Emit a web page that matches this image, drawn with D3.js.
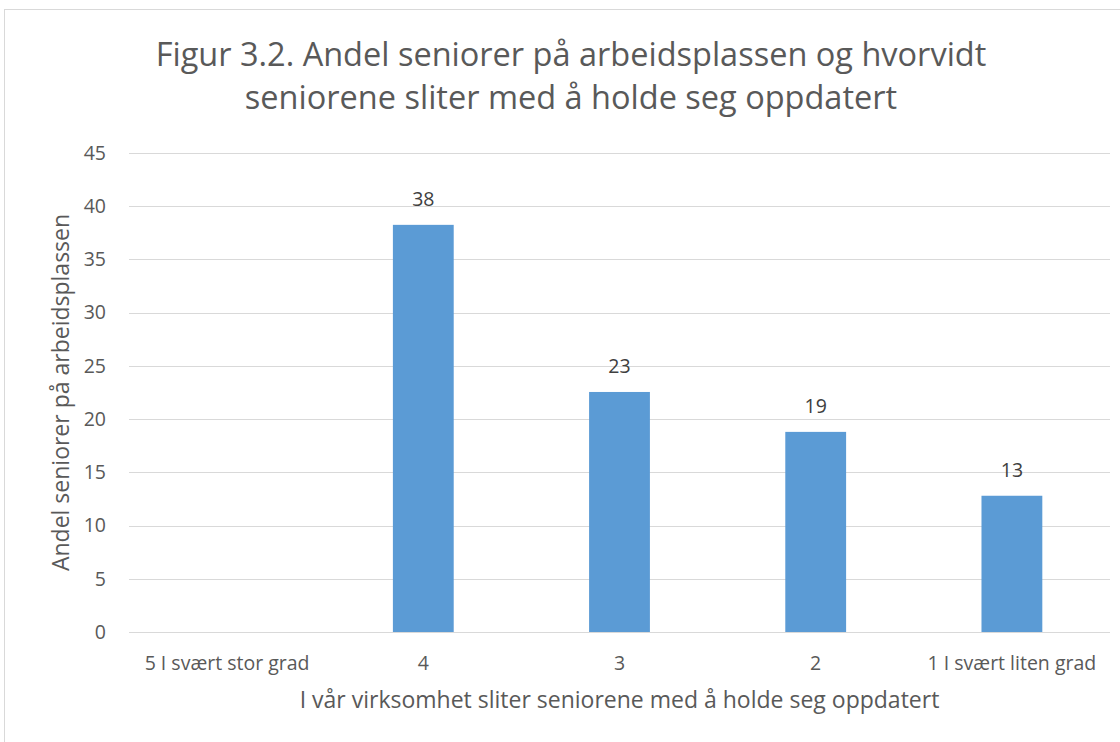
<!DOCTYPE html>
<meta charset="utf-8">
<style>
  body { margin: 0; background: #fff; }
  text { font-family: "Open Sans", "Noto Sans", sans-serif; }
  .grid line { stroke: #d9d9d9; stroke-width: 1; }
  .tick-label { fill: #595959; font-size: 19.5px; }
</style>
<body>
<script src="https://d3js.org/d3.v7.min.js"></script>
<script>
// data
var categories = ["5 I svært stor grad", "4", "3", "2", "1 I svært liten grad"];
var values = [0, 38.25, 22.55, 18.8, 12.8];
var yTicks = [0, 5, 10, 15, 20, 25, 30, 35, 40, 45];
var titleLines = ["Figur 3.2. Andel seniorer på arbeidsplassen og hvorvidt",
                  "seniorene sliter med å holde seg oppdatert"];
var yTitle = "Andel seniorer på arbeidsplassen";
var xTitle = "I vår virksomhet sliter seniorene med å holde seg oppdatert";

var width = 1120, height = 742;
var margin = {top: 153, right: 10, bottom: 110, left: 129};

var svg = d3.select("body").append("svg")
    .attr("width", width)
    .attr("height", height);

// chart border
svg.append("rect")
    .attr("x", 4.5).attr("y", 9.5)
    .attr("width", width + 20).attr("height", height + 20)
    .attr("fill", "none")
    .attr("stroke", "#d9d9d9");

var x = d3.scaleBand()
    .domain(categories)
    .range([margin.left, width - margin.right])
    .paddingInner(0.69)
    .paddingOuter(0.345);

var y = d3.scaleLinear()
    .domain([0, 45])
    .range([height - margin.bottom, margin.top]);

// gridlines
svg.append("g").attr("class", "grid")
  .selectAll("line")
    .data(yTicks)
  .enter().append("line")
    .attr("x1", margin.left)
    .attr("x2", width - margin.right)
    .attr("y1", function(d) { return Math.round(y(d)) + 0.5; })
    .attr("y2", function(d) { return Math.round(y(d)) + 0.5; });

// y tick labels
svg.append("g")
  .selectAll("text")
    .data(yTicks)
  .enter().append("text")
    .attr("class", "tick-label")
    .attr("x", 106)
    .attr("y", function(d) { return y(d); })
    .attr("dy", "0.35em")
    .attr("text-anchor", "end")
    .text(function(d) { return d; });

// bars
var cats = categories.map(function(c, i) { return {cat: c, v: values[i]}; });

svg.append("g")
  .selectAll("rect")
    .data(cats.filter(function(d) { return d.v > 0; }))
  .enter().append("rect")
    .attr("x", function(d) { return x(d.cat); })
    .attr("width", x.bandwidth())
    .attr("y", function(d) { return y(d.v); })
    .attr("height", function(d) { return y(0) - y(d.v); })
    .attr("fill", "#5b9bd5");

// value labels
svg.append("g")
  .selectAll("text")
    .data(cats.filter(function(d) { return d.v > 0; }))
  .enter().append("text")
    .attr("x", function(d) { return x(d.cat) + x.bandwidth() / 2; })
    .attr("y", function(d) { return y(d.v) - 19; })
    .attr("text-anchor", "middle")
    .attr("fill", "#404040")
    .style("font-size", "19.5px")
    .text(function(d) { return Math.round(d.v); });

// x category labels
svg.append("g")
  .selectAll("text")
    .data(categories)
  .enter().append("text")
    .attr("class", "tick-label")
    .attr("x", function(d) { return x(d) + x.bandwidth() / 2; })
    .attr("y", 670)
    .attr("text-anchor", "middle")
    .text(function(d) { return d; });

// axis titles
svg.append("text")
    .attr("x", (margin.left + width - margin.right) / 2)
    .attr("y", 708)
    .attr("text-anchor", "middle")
    .attr("fill", "#595959")
    .style("font-size", "23px")
    .text(xTitle);

svg.append("text")
    .attr("transform", "translate(69," + y(22.5) + ") rotate(-90)")
    .attr("text-anchor", "middle")
    .attr("fill", "#595959")
    .style("font-size", "23px")
    .text(yTitle);

// title
svg.append("g")
  .selectAll("text")
    .data(titleLines)
  .enter().append("text")
    .attr("x", 571)
    .attr("y", function(d, i) { return 66 + i * 43; })
    .attr("text-anchor", "middle")
    .attr("fill", "#595959")
    .style("font-size", "32.5px")
    .text(function(d) { return d; });
</script>
</body>
